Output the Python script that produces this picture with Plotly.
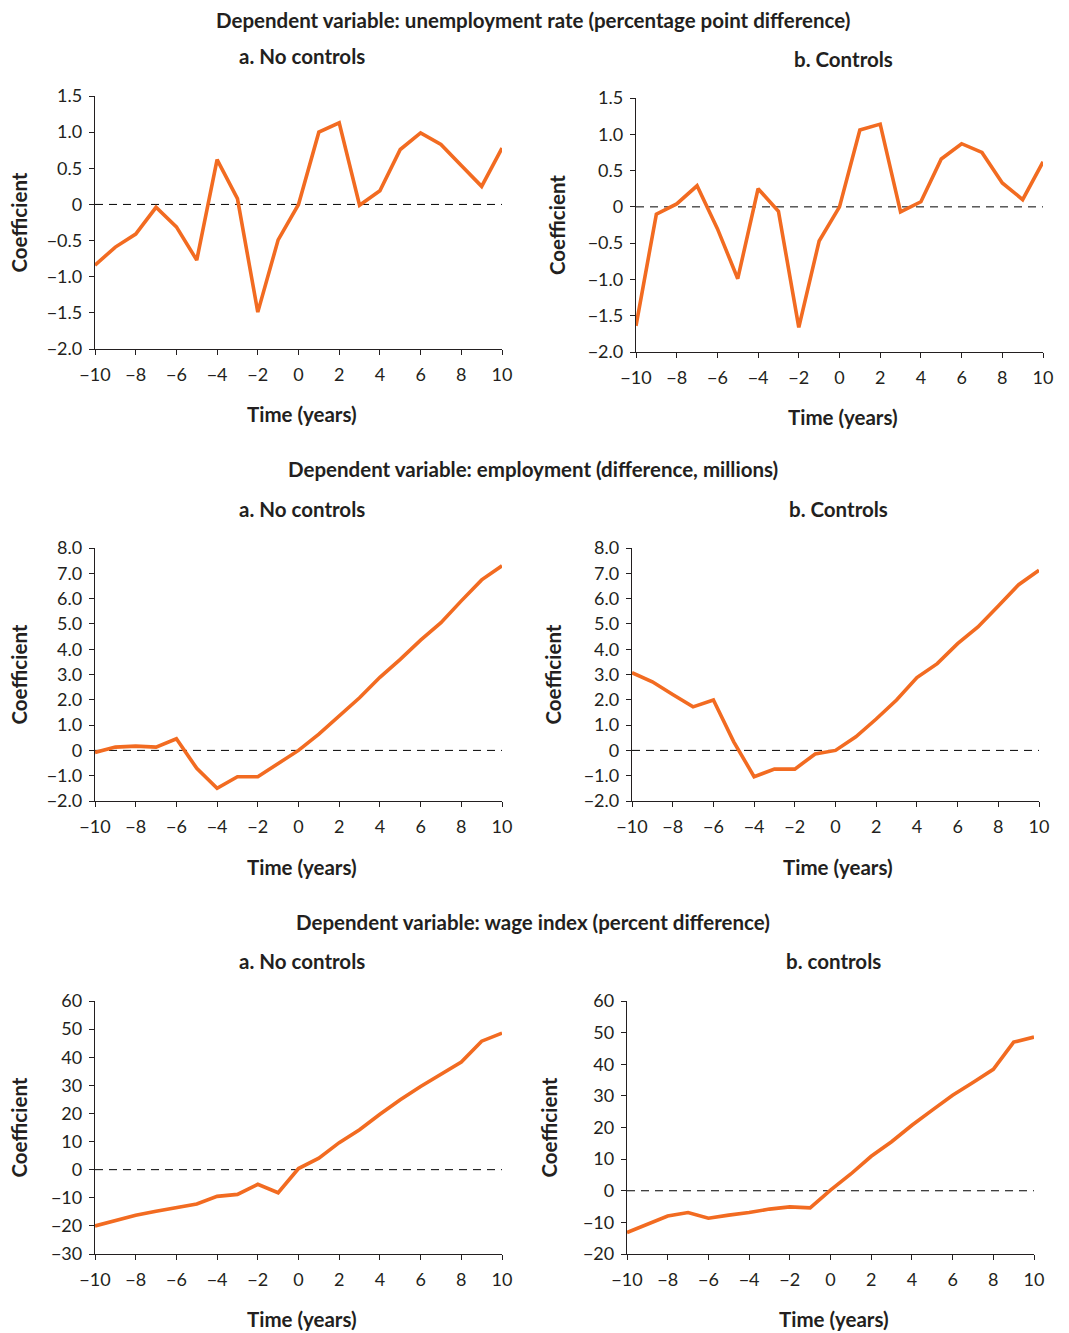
import plotly.graph_objects as go

# ---------------- data ----------------
years = list(range(-10, 11))

unemp_no_controls = [-0.84, -0.59, -0.41, -0.04, -0.31, -0.77, 0.62, 0.08, -1.49, -0.49, 0.0,
                     1.00, 1.13, -0.01, 0.19, 0.76, 0.99, 0.83, 0.54, 0.25, 0.78]
unemp_controls = [-1.64, -0.10, 0.04, 0.29, -0.30, -0.99, 0.25, -0.06, -1.66, -0.47, 0.0,
                  1.06, 1.14, -0.07, 0.07, 0.66, 0.87, 0.75, 0.33, 0.10, 0.62]

emp_no_controls = [-0.08, 0.13, 0.17, 0.13, 0.46, -0.71, -1.50, -1.04, -1.04, -0.51, 0.0,
                   0.64, 1.38, 2.08, 2.89, 3.60, 4.36, 5.05, 5.91, 6.74, 7.30]
emp_controls = [3.07, 2.71, 2.21, 1.72, 1.99, 0.34, -1.04, -0.74, -0.74, -0.14, 0.0,
                0.54, 1.24, 1.99, 2.88, 3.43, 4.22, 4.88, 5.71, 6.55, 7.12]

wage_no_controls = [-20.0, -18.0, -16.2, -14.8, -13.6, -12.2, -9.5, -8.8, -5.2, -8.2, 0.4,
                    4.1, 9.6, 14.2, 19.7, 24.9, 29.6, 33.8, 38.3, 45.7, 48.6]
wage_controls = [-13.2, -10.6, -8.0, -6.9, -8.7, -7.7, -6.9, -5.8, -5.1, -5.4, 0.2,
                 5.3, 10.9, 15.5, 20.7, 25.5, 30.2, 34.2, 38.4, 47.0, 48.6]

x_tick_vals = list(range(-10, 11, 2))
x_tick_text = ["\u221210", "\u22128", "\u22126", "\u22124", "\u22122", "0", "2", "4", "6", "8", "10"]

unemp_tick_vals = [-2.0, -1.5, -1.0, -0.5, 0, 0.5, 1.0, 1.5]
unemp_tick_text = ["\u22122.0", "\u22121.5", "\u22121.0", "\u22120.5", "0", "0.5", "1.0", "1.5"]

emp_tick_vals = [-2, -1, 0, 1, 2, 3, 4, 5, 6, 7, 8]
emp_tick_text = ["\u22122.0", "\u22121.0", "0", "1.0", "2.0", "3.0", "4.0", "5.0", "6.0", "7.0", "8.0"]

wage_no_tick_vals = [-30, -20, -10, 0, 10, 20, 30, 40, 50, 60]
wage_no_tick_text = ["\u221230", "\u221220", "\u221210", "0", "10", "20", "30", "40", "50", "60"]
wage_c_tick_vals = [-20, -10, 0, 10, 20, 30, 40, 50, 60]
wage_c_tick_text = ["\u221220", "\u221210", "0", "10", "20", "30", "40", "50", "60"]

section_titles = ["Dependent variable: unemployment rate (percentage point difference)",
                  "Dependent variable: employment (difference, millions)",
                  "Dependent variable: wage index (percent difference)"]
panel_titles = ["a. No controls", "b. Controls", "a. No controls", "b. Controls",
                "a. No controls", "b. controls"]
x_title = "Time (years)"
y_title = "Coefficient"

# ---------------- layout ----------------
OFF = 8                      # page body margin
W, H = 1069 - 2 * OFF, 1333 - OFF
FONT = "Lato"
TXT = "#231f20"
ORANGE = "#f26b21"
BOLD_SIZE = 20.5
TICK_SIZE = 18

# pixel boxes on the page: (x0, x1, ytop, ybottom)
boxes = [
    (95, 502, 96, 349),
    (636, 1043, 98, 352),
    (95, 502, 548, 801),
    (632, 1039, 548, 801),
    (95, 502, 1001, 1254),
    (627, 1034, 1001, 1254),
]
series = [unemp_no_controls, unemp_controls, emp_no_controls, emp_controls,
          wage_no_controls, wage_controls]
yticks = [(unemp_tick_vals, unemp_tick_text), (unemp_tick_vals, unemp_tick_text),
          (emp_tick_vals, emp_tick_text), (emp_tick_vals, emp_tick_text),
          (wage_no_tick_vals, wage_no_tick_text), (wage_c_tick_vals, wage_c_tick_text)]

panel_title_pos = [(302, 56), (843, 59), (302, 509), (838, 509), (302, 961), (833, 961)]
xtitle_pos = [(302, 414), (843, 417), (302, 867), (838, 867), (302, 1319), (834, 1319)]
ytitle_x = [18, 557, 18, 552, 18, 548]
section_pos = [(533, 20), (533, 469), (533, 922)]


def px(x):
    return (x - OFF) / W


def py(y):
    return 1 - (y - OFF) / H


fig = go.Figure()
layout = dict(
    width=W, height=H,
    margin=dict(l=0, r=0, t=0, b=0, pad=0, autoexpand=False),
    paper_bgcolor="white", plot_bgcolor="white",
    showlegend=False,
    font=dict(family=FONT, color=TXT, size=TICK_SIZE),
)
annotations = []
shapes = []

for i, (box, ys, (tv, tt)) in enumerate(zip(boxes, series, yticks)):
    n = i + 1
    xa = "xaxis" if n == 1 else f"xaxis{n}"
    ya = "yaxis" if n == 1 else f"yaxis{n}"
    xr = "x" if n == 1 else f"x{n}"
    yr = "y" if n == 1 else f"y{n}"
    x0, x1, yt, yb = box
    layout[xa] = dict(
        domain=[px(x0), px(x1)], anchor=yr, range=[-10, 10],
        tickvals=x_tick_vals, ticktext=x_tick_text,
        showline=True, linecolor=TXT, linewidth=1.3,
        ticks="outside", ticklen=5, tickwidth=1.3, tickcolor=TXT,
        showgrid=False, zeroline=False, fixedrange=True, automargin=False,
        tickfont=dict(family=FONT, size=TICK_SIZE, color=TXT),
        ticklabelstandoff=4,
    )
    layout[ya] = dict(
        domain=[py(yb), py(yt)], anchor=xr, range=[tv[0], tv[-1]],
        tickvals=tv, ticktext=tt,
        showline=True, linecolor=TXT, linewidth=1.3,
        ticks="outside", ticklen=5, tickwidth=1.3, tickcolor=TXT,
        showgrid=False, zeroline=False, fixedrange=True, automargin=False,
        tickfont=dict(family=FONT, size=TICK_SIZE, color=TXT),
        ticklabelstandoff=3,
    )
    # zero dashed reference line
    shapes.append(dict(type="line", xref=xr, yref=yr, x0=-10, x1=10, y0=0, y1=0,
                       line=dict(color="black", width=1, dash="8px,6px"), layer="below"))
    fig.add_trace(go.Scatter(x=years, y=ys, mode="lines", xaxis=xr, yaxis=yr,
                             line=dict(color=ORANGE, width=3.6), hoverinfo="skip"))

    tx, ty = panel_title_pos[i]
    annotations.append(dict(text=f"<b>{panel_titles[i]}</b>", x=px(tx), y=py(ty),
                            xref="paper", yref="paper", showarrow=False, borderpad=0,
                            xanchor="center", yanchor="middle",
                            font=dict(family=FONT, size=BOLD_SIZE, color=TXT)))
    tx, ty = xtitle_pos[i]
    annotations.append(dict(text=f"<b>{x_title}</b>", x=px(tx), y=py(ty),
                            xref="paper", yref="paper", showarrow=False, borderpad=0,
                            xanchor="center", yanchor="middle",
                            font=dict(family=FONT, size=BOLD_SIZE, color=TXT)))
    annotations.append(dict(text=f"<b>{y_title}</b>", x=px(ytitle_x[i]), y=py((yt + yb) / 2),
                            xref="paper", yref="paper", showarrow=False, textangle=-90,
                            borderpad=0, xanchor="center", yanchor="middle",
                            font=dict(family=FONT, size=BOLD_SIZE, color=TXT)))

for t, (sx, sy) in zip(section_titles, section_pos):
    annotations.append(dict(text=f"<b>{t}</b>", x=px(sx), y=py(sy),
                            xref="paper", yref="paper", showarrow=False, borderpad=0,
                            xanchor="center", yanchor="middle",
                            font=dict(family=FONT, size=BOLD_SIZE, color=TXT)))

layout["annotations"] = annotations
layout["shapes"] = shapes
fig.update_layout(**layout)
fig.write_html("out.html")
